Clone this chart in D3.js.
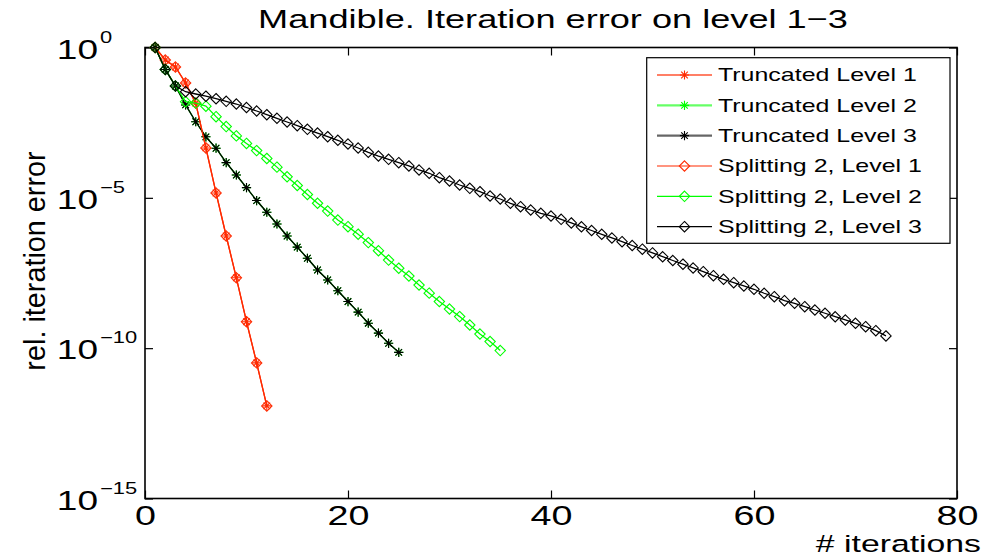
<!DOCTYPE html>
<html>
<head>
<meta charset="utf-8">
<script src="https://cdn.jsdelivr.net/npm/d3@7"></script>
<style>
  html, body { margin: 0; padding: 0; background: #fff; }
  svg { display: block; font-family: "Liberation Sans", Arial, Helvetica, sans-serif; }
</style>
</head>
<body>
<svg id="chart" width="985" height="557"></svg>
<script>
// Iteration counts and relative iteration errors per run
const itersL1 = d3.range(1, 13);
const itersL2 = d3.range(1, 26);
const itersSplitL2 = d3.range(1, 36);
const itersSplitL3 = d3.range(1, 74);

const truncatedL1 = [1, 3.84e-1, 2.25e-1, 6.61e-2, 1.41e-2, 4.57e-4, 1.45e-5, 5.37e-7, 2.19e-8, 7.59e-10, 3.24e-11, 1.20e-12];
const truncatedL2 = [1, 1.86e-1, 5.25e-2, 1.23e-2, 3.39e-3, 1.07e-3, 4.47e-4, 1.48e-4, 5.75e-5, 2.19e-5, 8.13e-6, 3.31e-6, 1.35e-6,
  5.37e-7, 2.29e-7, 9.77e-8, 3.98e-8, 1.86e-8, 8.13e-9, 3.55e-9, 1.58e-9, 6.76e-10, 3.16e-10, 1.45e-10, 7.24e-11];
const truncatedL3 = [1, 1.86e-1, 5.25e-2, 1.23e-2, 3.39e-3, 1.07e-3, 4.47e-4, 1.48e-4, 5.75e-5, 2.19e-5, 8.13e-6, 3.31e-6, 1.35e-6,
  5.37e-7, 2.29e-7, 9.77e-8, 3.98e-8, 1.86e-8, 8.13e-9, 3.55e-9, 1.58e-9, 6.76e-10, 3.16e-10, 1.45e-10, 7.24e-11];
const splittingL1 = [1, 3.84e-1, 2.25e-1, 6.61e-2, 1.41e-2, 4.57e-4, 1.45e-5, 5.37e-7, 2.19e-8, 7.59e-10, 3.24e-11, 1.20e-12];
const splittingL2 = [1, 1.86e-1, 5.25e-2, 1.58e-2, 1.41e-2, 1.12e-2, 5.01e-3, 2.34e-3, 1.15e-3, 6.46e-4, 3.72e-4, 2.04e-4,
  1.05e-4, 5.01e-5, 2.57e-5, 1.29e-5, 6.61e-6, 3.63e-6, 1.82e-6, 1.10e-6, 6.17e-7, 3.24e-7, 1.74e-7, 8.51e-8, 4.57e-8,
  2.51e-8, 1.26e-8, 6.76e-9, 3.55e-9, 2.00e-9, 1.12e-9, 5.89e-10, 2.95e-10, 1.66e-10, 8.32e-11];
const splittingL3 = [1, 1.85e-1, 5.25e-2, 3.39e-2, 2.84e-2, 2.40e-2, 1.98e-2, 1.62e-2, 1.32e-2, 1.01e-2, 7.73e-3, 5.82e-3,
  4.42e-3, 3.33e-3, 2.51e-3, 1.90e-3, 1.43e-3, 1.08e-3, 8.21e-4, 6.18e-4, 4.55e-4, 3.27e-4, 2.46e-4, 1.91e-4, 1.48e-4,
  1.15e-4, 8.44e-5, 6.56e-5, 4.68e-5, 3.63e-5, 2.67e-5, 2.07e-5, 1.60e-5, 1.15e-5, 9.15e-6, 6.59e-6, 5.08e-6, 3.94e-6,
  3.06e-6, 2.49e-6, 1.93e-6, 1.46e-6, 1.09e-6, 8.20e-7, 6.14e-7, 4.62e-7, 3.48e-7, 2.60e-7, 1.96e-7, 1.47e-7, 1.10e-7,
  8.24e-8, 6.21e-8, 4.65e-8, 3.50e-8, 2.58e-8, 1.95e-8, 1.51e-8, 1.17e-8, 9.10e-9, 6.70e-9, 5.16e-9, 3.80e-9, 3.11e-9,
  2.40e-9, 1.86e-9, 1.45e-9, 1.11e-9, 8.66e-10, 6.73e-10, 5.19e-10, 3.82e-10, 2.55e-10];

const seriesNames = ["Truncated Level 1", "Truncated Level 2", "Truncated Level 3",
                     "Splitting 2, Level 1", "Splitting 2, Level 2", "Splitting 2, Level 3"];
const xTicks = [0, 20, 40, 60, 80];
const yTickExponents = [0, -5, -10, -15];
const titleText = "Mandible. Iteration error on level 1\u22123";
const xLabel = "# iterations";
const yLabel = "rel. iteration error";

const RED = "#ff2a00", GREEN = "#00ff00", BLACK = "#000000";

const series = [
  { name: seriesNames[0], x: itersL1, y: truncatedL1, color: RED, marker: "star" },
  { name: seriesNames[1], x: itersL2, y: truncatedL2, color: GREEN, marker: "star" },
  { name: seriesNames[2], x: itersL2, y: truncatedL3, color: BLACK, marker: "star" },
  { name: seriesNames[3], x: itersL1, y: splittingL1, color: RED, marker: "diamond" },
  { name: seriesNames[4], x: itersSplitL2, y: splittingL2, color: GREEN, marker: "diamond" },
  { name: seriesNames[5], x: itersSplitL3, y: splittingL3, color: BLACK, marker: "diamond" }
];

const svg = d3.select("#chart");
const box = { left: 145, right: 957, top: 47.5, bottom: 498.5 };
const SX = 1.37; // horizontal text widening

const x = d3.scaleLinear().domain([0, 80]).range([box.left, box.right]);
const y = d3.scaleLog().domain([1e-15, 1]).range([box.bottom, box.top]);

// Frame with inward ticks on all four sides
function styleAxis(g) {
  g.select(".domain").remove();
  g.selectAll(".tick line").attr("stroke", "#000").attr("stroke-width", 1.2);
}
svg.append("g").attr("transform", `translate(0,${box.bottom})`)
  .call(d3.axisBottom(x).tickValues(xTicks).tickSize(-8).tickFormat(d => d))
  .call(styleAxis)
  .call(g => g.selectAll(".tick text")
    .attr("fill", "#000").attr("font-size", 27.5).attr("dy", null).attr("y", 0)
    .attr("font-family", "Liberation Sans, Arial, sans-serif")
    .attr("transform", `translate(0,26.3) scale(${SX},1)`));
svg.append("g").attr("transform", `translate(0,${box.top})`)
  .call(d3.axisTop(x).tickValues(xTicks).tickSize(-8).tickFormat(""))
  .call(styleAxis);
const yTicks = yTickExponents.map(e => Math.pow(10, e));
svg.append("g").attr("transform", `translate(${box.left},0)`)
  .call(d3.axisLeft(y).tickValues(yTicks).tickSize(-8).tickFormat(""))
  .call(styleAxis);
svg.append("g").attr("transform", `translate(${box.right},0)`)
  .call(d3.axisRight(y).tickValues(yTicks).tickSize(-8).tickFormat(""))
  .call(styleAxis);

svg.append("rect")
  .attr("x", box.left).attr("y", box.top)
  .attr("width", box.right - box.left).attr("height", box.bottom - box.top)
  .attr("fill", "none").attr("stroke", "#000").attr("stroke-width", 1.6);

// Log tick labels as 10 with superscript exponent
const yLab = svg.append("g");
yTickExponents.forEach((e, i) => {
  const ty = y(yTicks[i]);
  yLab.append("text")
    .attr("transform", `translate(98,${ty + 11}) scale(${SX},1)`)
    .attr("text-anchor", "end").attr("font-size", 27).text("10");
  yLab.append("text")
    .attr("transform", `translate(100,${ty - 5}) scale(${SX},1)`)
    .attr("text-anchor", "start").attr("font-size", 16)
    .text(e === 0 ? "0" : "\u2212" + Math.abs(e));
});

// Marker shapes
function markerPath(type) {
  if (type === "diamond") return "M0,-5.2L5.2,0L0,5.2L-5.2,0Z";
  const r = 4.6, a = 3.3;
  return `M${-r},0H${r}M0,${-r}V${r}M${-a},${-a}L${a},${a}M${-a},${a}L${a},${-a}`;
}

const plotG = svg.append("g");
const line = d3.line().x(d => x(d[0])).y(d => y(d[1]));
series.forEach(s => {
  const pts = s.x.map((v, i) => [v, s.y[i]]);
  const g = plotG.append("g");
  g.append("path").datum(pts).attr("d", line)
    .attr("fill", "none").attr("stroke", s.color).attr("stroke-width", 1.3);
  g.selectAll("path.m").data(pts).join("path").attr("class", "m")
    .attr("transform", d => `translate(${x(d[0])},${y(d[1])})`)
    .attr("d", markerPath(s.marker))
    .attr("fill", "none").attr("stroke", s.color).attr("stroke-width", 1.1);
});

// Legend
const leg = svg.append("g");
leg.append("rect").attr("x", 646.7).attr("y", 57.7).attr("width", 303.3).attr("height", 185.6)
  .attr("fill", "#fff").attr("stroke", "#000").attr("stroke-width", 1.2);
series.forEach((s, i) => {
  const ry = 75 + i * 30.33;
  const trunc = s.marker === "star";
  leg.append("line").attr("x1", 657).attr("x2", 712).attr("y1", ry).attr("y2", ry)
    .attr("stroke", s.color).attr("stroke-width", trunc ? 2.2 : 1.2)
    .attr("stroke-opacity", trunc ? 0.6 : 1);
  leg.append("path").attr("transform", `translate(684.5,${ry})`)
    .attr("d", markerPath(s.marker)).attr("fill", "none")
    .attr("stroke", s.color).attr("stroke-width", 1.1);
  leg.append("text").attr("transform", `translate(718,${ry + 6.4}) scale(1.41,1)`)
    .attr("font-size", 17.7).attr("fill", "#000").text(s.name);
});

// Title and axis labels
svg.append("text").attr("transform", `translate(553,28) scale(1.365,1)`)
  .attr("text-anchor", "middle").attr("font-size", 26.5).text(titleText);
svg.append("text").attr("transform", `translate(981,551.9) scale(1.45,1)`)
  .attr("text-anchor", "end").attr("font-size", 23.3).text(xLabel);
svg.append("text").attr("transform", `translate(44.5,261) rotate(-90)`)
  .attr("text-anchor", "middle").attr("font-size", 28.8).text(yLabel);
</script>
</body>
</html>
